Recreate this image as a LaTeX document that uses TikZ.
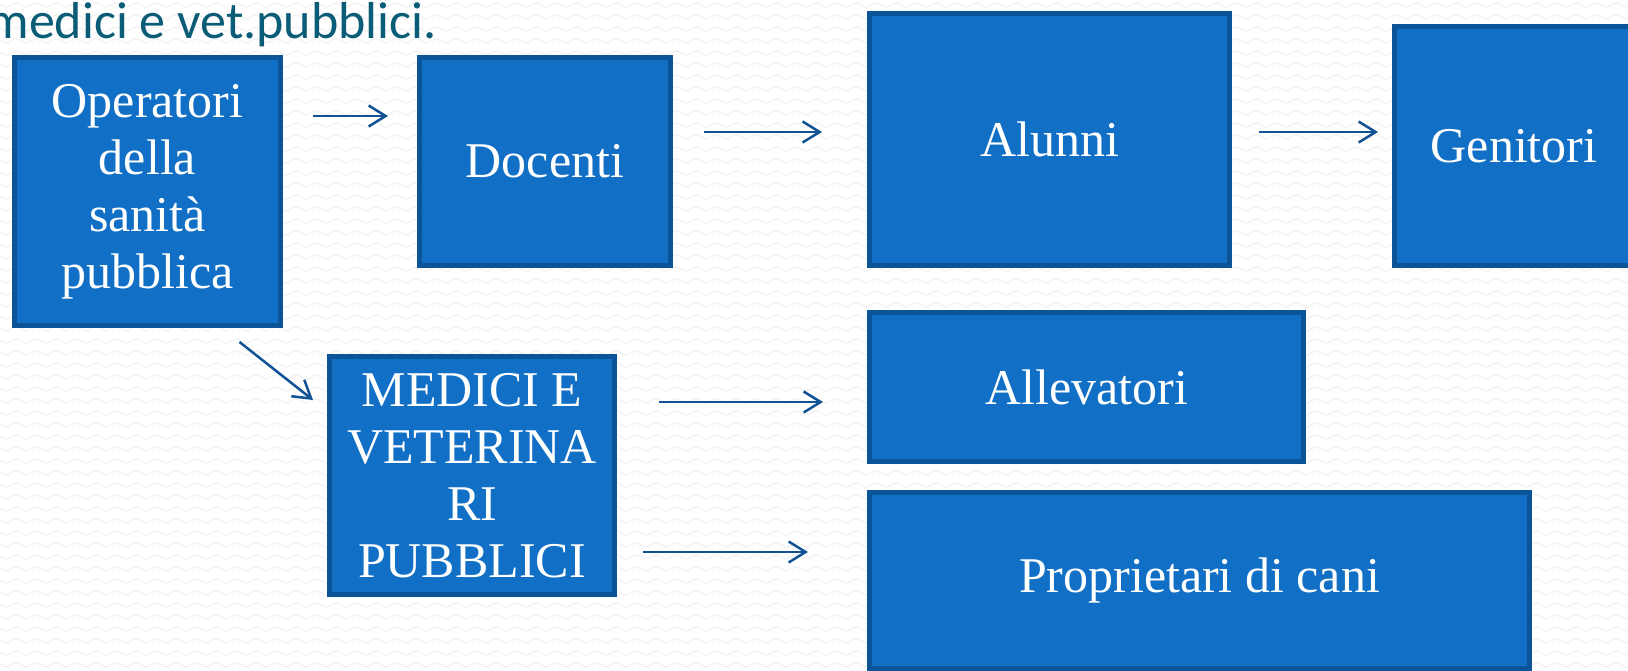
\documentclass[tikz,border=0pt]{standalone}
\usepackage{fontspec}
\setmainfont{Liberation Serif}
\newfontfamily\titlefont{Carlito}
\usepackage{tikz}
\usetikzlibrary{arrows.meta,decorations.pathmorphing}

\definecolor{boxfill}{RGB}{17,112,198}
\definecolor{boxline}{RGB}{12,84,152}
\definecolor{arrline}{RGB}{16,82,148}
\definecolor{titlecol}{RGB}{11,92,118}

\begin{document}
\begin{tikzpicture}[x=1pt, y=-1pt,
  box/.style={draw=boxline, fill=boxfill, line width=5pt, inner sep=0pt,
    text=white, align=center, font=\fontsize{50}{57}\selectfont},
  arr/.style={draw=arrline, line width=2.5pt,
    -{Straight Barb[length=17pt, width=21pt]}},
  wave/.style={draw=black!5, line width=1.3pt,
    decorate, decoration={snake, segment length=20pt, amplitude=2pt}}]
\useasboundingbox (0,0) rectangle (1628,671);
\clip (0,0) rectangle (1628,671);

\fill[white] (0,0) rectangle (1628,671);
\foreach \r in {0,...,56}
{
  \draw[wave] (-10,{\r*12+5}) -- (1650,{\r*12+5});
}

\node[anchor=base east, inner sep=0pt, text=titlecol,
  font=\titlefont\fontsize{52}{60}\selectfont] (title) at (437,39) {medici e vet.pubblici.};

\node[box, minimum width=266pt, minimum height=268pt] (op) at (147.5,191.5) {Operatori\\della\\sanità\\pubblica};
\node[box, minimum width=251pt, minimum height=208pt] (doc) at (545,161.5) {Docenti};
\node[box, minimum width=360pt, minimum height=252pt] (alu) at (1049.5,139.5) {Alunni};
\node[box, minimum width=239pt, minimum height=239pt] (gen) at (1514,146) {Genitori};
\node[box, minimum width=285pt, minimum height=238pt] (med) at (472,475.5) {MEDICI E\\VETERINA\\RI\\PUBBLICI};
\node[box, minimum width=434pt, minimum height=149pt] (all) at (1086.5,387) {Allevatori};
\node[box, minimum width=660pt, minimum height=176pt] (pro) at (1199.5,580.5) {Proprietari di cani};

\draw[arr, shorten <=30pt, shorten >=29pt] (op.east |- 0,116) -- (doc.west |- 0,116);
\draw[arr, shorten <=31pt, shorten >=45pt] (doc.east |- 0,132) -- (alu.west |- 0,132);
\draw[arr, shorten <=27pt, shorten >=14pt] (alu.east |- 0,132) -- (gen.west |- 0,132);
\draw[arr] ([xshift=92pt, yshift=-14pt]op.south) -- ([xshift=-14pt, yshift=-46pt]med.north west);
\draw[arr, shorten <=42pt, shorten >=44pt] (med.east |- 0,402) -- (all.west |- 0,402);
\draw[arr, shorten <=26pt, shorten >=59pt] (med.east |- 0,552) -- (pro.west |- 0,552);
\end{tikzpicture}
\end{document}
